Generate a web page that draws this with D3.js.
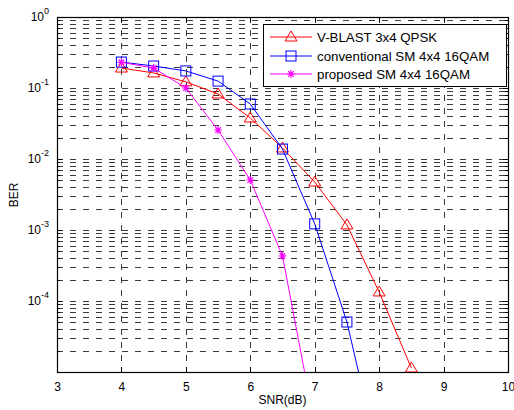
<!DOCTYPE html>
<html><head><meta charset="utf-8">
<script src="https://cdn.jsdelivr.net/npm/d3@7"></script>
<style>body{margin:0;background:#fff;}svg{display:block;font-family:"Liberation Sans",Arial,sans-serif;}</style>
</head><body>
<svg id="c" width="514" height="410"></svg>
<script>
const snr = [4, 4.5, 5, 5.5, 6, 6.5, 7, 7.5, 8, 8.5];
const vblast = [0.191, 0.163, 0.122, 0.0823, 0.0378, 0.0143, 0.00474, 0.00118, 1.34e-4, 1.14e-5];
const snrConv = [4, 4.5, 5, 5.5, 6, 6.5, 7, 7.5, 8];
const convSM = [0.232, 0.204, 0.174, 0.125, 0.0595, 0.0138, 0.00122, 5.06e-5, 5.6e-7];
const snrProp = [4, 4.5, 5, 5.5, 6, 6.5, 7];
const propSM = [0.23, 0.191, 0.1, 0.0256, 0.00506, 4.3e-4, 1.8e-6];
const xTicks = [3, 4, 5, 6, 7, 8, 9, 10];
const yTicks = [1, 1e-1, 1e-2, 1e-3, 1e-4];
const legendLabels = ["V-BLAST 3x4 QPSK", "conventional SM 4x4 16QAM", "proposed SM 4x4 16QAM"];

const svg = d3.select("#c");
const L = 57, R = 508, T = 17, B = 372;
const x = d3.scaleLinear().domain([3, 10]).range([L, R]);
const y = d3.scaleLog().domain([1e-5, 1]).range([B, T]);

// grid
const minor = [];
for (let e = -5; e < 0; e++) for (let k = 1; k <= 9; k++) minor.push(k * Math.pow(10, e));
minor.push(1);
const grid = svg.append("g").attr("stroke", "#3a3a3a").attr("stroke-width", 1).attr("stroke-dasharray", "6,7").attr("shape-rendering", "crispEdges");
grid.selectAll("line.h").data(minor.filter(v => v > 1e-5 && v < 1)).join("line")
  .attr("x1", L).attr("x2", R).attr("y1", d => Math.round(y(d)) + 0.5).attr("y2", d => Math.round(y(d)) + 0.5);
grid.selectAll("line.v").data(xTicks.slice(1, -1)).join("line")
  .attr("x1", d => Math.round(x(d)) + 0.5).attr("x2", d => Math.round(x(d)) + 0.5).attr("y1", T).attr("y2", B);

// axes
const ax = svg.append("g").attr("font-size", 12);
const xb = ax.append("g").attr("transform", `translate(0,${B})`)
  .call(d3.axisBottom(x).tickValues(xTicks).tickSize(-5).tickPadding(10).tickFormat(d3.format("d")));
const xt = ax.append("g").attr("transform", `translate(0,${T})`)
  .call(d3.axisTop(x).tickValues(xTicks).tickSize(-5).tickFormat(""));
const yl = ax.append("g").attr("transform", `translate(${L},0)`)
  .call(d3.axisLeft(y).tickValues(minor).tickSize(-3).tickFormat(""));
const yl2 = ax.append("g").attr("transform", `translate(${L},0)`)
  .call(d3.axisLeft(y).tickValues(yTicks).tickSize(-5).tickFormat(""));
const yr = ax.append("g").attr("transform", `translate(${R},0)`)
  .call(d3.axisRight(y).tickValues(minor).tickSize(-3).tickFormat(""));
const yr2 = ax.append("g").attr("transform", `translate(${R},0)`)
  .call(d3.axisRight(y).tickValues(yTicks).tickSize(-5).tickFormat(""));
ax.selectAll(".domain").remove();
ax.selectAll("line").attr("stroke", "#000").attr("shape-rendering", "crispEdges");
xb.selectAll("text").attr("fill", "#000").attr("font-size", 12);

// y labels with superscripts
const ylab = svg.append("g").attr("font-size", 12).attr("fill", "#000");
yTicks.forEach(v => {
  const e = Math.round(Math.log10(v));
  const t = ylab.append("text").attr("x", 49).attr("y", y(v) + 4).attr("text-anchor", "end");
  t.append("tspan").text("10");
  t.append("tspan").attr("dy", -7).attr("font-size", 9).text(e);
});

svg.append("rect").attr("x", L + 0.5).attr("y", T + 0.5).attr("width", R - L).attr("height", B - T)
  .attr("fill", "none").attr("stroke", "#000").attr("stroke-width", 1.2);

svg.append("text").attr("x", (L + R) / 2).attr("y", 404).attr("text-anchor", "middle").attr("font-size", 12).text("SNR(dB)");
svg.append("text").attr("transform", "translate(18,195) rotate(-90)").attr("text-anchor", "middle").attr("font-size", 12).text("BER");

// data
svg.append("clipPath").attr("id", "clip").append("rect").attr("x", L).attr("y", T).attr("width", R - L).attr("height", B - T);
const plot = svg.append("g").attr("clip-path", "url(#clip)");
const line = d3.line().x(d => x(d[0])).y(d => y(d[1]));
const series = [
  {xs: snr, ys: vblast, color: "#ff0000", sym: "tri"},
  {xs: snrConv, ys: convSM, color: "#0000ff", sym: "sq"},
  {xs: snrProp, ys: propSM, color: "#ff00ff", sym: "star"}
];
function marker(g, cx, cy, sym, color) {
  if (sym === "tri") {
    g.append("path").attr("d", `M${cx},${cy - 6}L${cx + 6},${cy + 4}L${cx - 6},${cy + 4}Z`).attr("fill", "none").attr("stroke", color);
  } else if (sym === "sq") {
    g.append("rect").attr("x", cx - 5).attr("y", cy - 5).attr("width", 10).attr("height", 10).attr("fill", "none").attr("stroke", color);
  } else {
    const r = 4;
    g.append("path").attr("d", `M${cx - r},${cy}L${cx + r},${cy}M${cx},${cy - r}L${cx},${cy + r}M${cx - r * 0.7},${cy - r * 0.7}L${cx + r * 0.7},${cy + r * 0.7}M${cx - r * 0.7},${cy + r * 0.7}L${cx + r * 0.7},${cy - r * 0.7}`).attr("stroke", color).attr("stroke-width", 1.2);
  }
}
series.forEach(s => {
  const pts = s.xs.map((v, i) => [v, s.ys[i]]);
  plot.append("path").datum(pts).attr("d", line).attr("fill", "none").attr("stroke", s.color).attr("stroke-width", 1);
  pts.forEach(p => marker(plot, x(p[0]), y(p[1]), s.sym, s.color));
});

// legend
const lg = svg.append("g");
lg.append("rect").attr("x", 263.5).attr("y", 24.5).attr("width", 243).attr("height", 62).attr("fill", "#fff").attr("stroke", "#000");
const rowsY = [37, 56, 74];
series.forEach((s, i) => {
  lg.append("line").attr("x1", 270).attr("x2", 312).attr("y1", rowsY[i]).attr("y2", rowsY[i]).attr("stroke", s.color);
  marker(lg, 291, rowsY[i], s.sym, s.color);
  lg.append("text").attr("x", 317).attr("y", rowsY[i] + 5).attr("font-size", 13.3).text(legendLabels[i]);
});
</script>
</body></html>
